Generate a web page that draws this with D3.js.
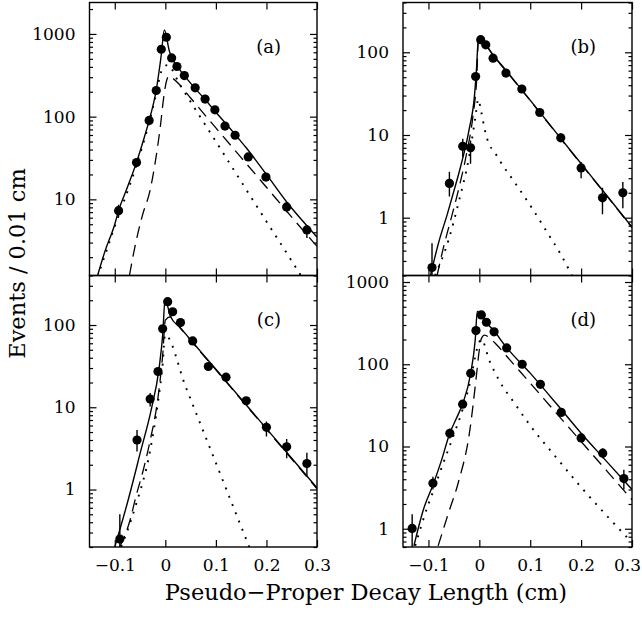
<!DOCTYPE html>
<html>
<head>
<meta charset="utf-8">
<script src="https://cdn.jsdelivr.net/npm/d3@7"></script>
<style>
  body { margin: 0; background: #fff; }
  text { font-family: "DejaVu Serif", serif; fill: #000; }
</style>
</head>
<body>
<script>
// measured points, panel (a)
const xA = [-0.0925,-0.057,-0.032,-0.018,-0.008,0.002,0.0125,0.023,0.0376,0.059,0.0786,0.098,0.118,0.138,0.164,0.199,0.24,0.28]
const yA = [7.3,27.9,90,207,653,912,513,404,314,223,163,121,77,59.6,32.6,18.6,8.1,4.27]
const errA = [[6.2,8.6],null,null,null,null,null,null,null,null,null,null,null,null,null,null,null,[7.0,9.3],[3.4,4.9]]
// fits (a)
const solidA = [[-0.134,1.2],[-0.12,2.3],[-0.1,5.0],[-0.0925,7.3],[-0.075,14],[-0.057,28],[-0.045,48],[-0.032,90],[-0.018,210],[-0.008,560],[-0.002,1120],[0.008,620],[0.0125,520],[0.023,410],[0.04,300],[0.06,215],[0.08,158],[0.1,113],[0.12,82],[0.14,59],[0.16,42],[0.2,20],[0.24,9.3],[0.28,4.8],[0.3,3.5]]
const dashA = [[-0.071,1.2],[-0.06,2.7],[-0.045,6.5],[-0.03,13],[-0.02,28],[-0.01,75],[-0.003,175],[0.003,280],[0.008,310],[0.015,290],[0.025,255],[0.05,168],[0.1,73],[0.15,32],[0.2,14],[0.25,6.1],[0.3,2.7]]
const dotA = [[-0.134,1.15],[-0.1,4.7],[-0.06,23],[-0.032,85],[-0.018,190],[-0.008,350],[0.004,420],[0.03,236],[0.06,121],[0.1,50],[0.15,16.4],[0.2,5.4],[0.25,1.8],[0.268,1.2]]

// panel (b)
const xB = [-0.093,-0.0588,-0.0326,-0.0173,-0.0073,0.0027,0.0126,0.027,0.0523,0.0835,0.1187,0.16,0.2,0.242,0.282]
const yB = [0.25,2.6,7.3,7.0,51,142,123,85,56,36,18.7,9.25,4.0,1.74,2.0]
const errB = [[0.05,0.49],[1.8,3.6],[5.4,9.0],[4.5,8.6],null,null,null,null,null,null,null,[8.2,10.5],[3.0,4.7],[1.1,2.3],[1.3,2.7]]
const solidB = [[-0.096,0.2],[-0.08,0.5],[-0.0626,1.12],[-0.05,2.1],[-0.037,4.1],[-0.0205,11.3],[-0.0093,31],[-0.0054,66],[-0.002,141],[0.0126,123],[0.027,93],[0.05,63],[0.08,37.4],[0.12,18.5],[0.16,9.1],[0.2,4.5],[0.25,1.87],[0.3,0.77]]
const dashB = [[-0.083,0.2],[-0.07,0.45],[-0.055,1.0],[-0.04,2.3],[-0.025,6],[-0.012,18],[-0.005,50],[-0.002,135],[0.0126,121],[0.027,92],[0.05,62],[0.08,37],[0.12,18.3],[0.16,9],[0.2,4.45],[0.25,1.85],[0.3,0.76]]
const dotB = [[-0.087,0.2],[-0.06,0.55],[-0.04,1.6],[-0.02,5.5],[-0.008,16],[-0.002,27],[0.003,20],[0.0126,10.3],[0.036,5.4],[0.069,2.7],[0.102,1.35],[0.135,0.64],[0.16,0.36],[0.182,0.2]]

// panel (c)
const xC = [-0.09,-0.056,-0.030,-0.0145,-0.0053,0.0046,0.0145,0.03,0.0541,0.0851,0.12,0.16,0.2,0.24,0.28]
const yC = [0.25,4.0,12.6,27.2,90,192,145,107,64,31.3,23.2,12.0,5.7,3.3,2.07]
const errC = [[0.15,0.5],[2.9,5.3],[10.2,14.9],null,null,null,null,null,null,null,null,null,[4.4,6.7],[2.4,4.1],[1.45,2.8]]
const solidC = [[-0.1,0.2],[-0.075,0.69],[-0.048,3.05],[-0.028,9.3],[-0.012,31],[-0.005,79],[-0.0006,205],[0.01,128],[0.03,92],[0.06,56],[0.1,29],[0.15,12.6],[0.2,5.5],[0.25,2.4],[0.3,1.05]]
const dashC = [[-0.09,0.2],[-0.07,0.42],[-0.058,0.83],[-0.045,1.6],[-0.031,3.7],[-0.0143,13.5],[-0.005,45],[0,115],[0.01,126],[0.03,91],[0.06,55],[0.1,28.5],[0.15,12.4],[0.2,5.4],[0.25,2.35],[0.3,1.02]]
const dotC = [[-0.087,0.2],[-0.06,0.6],[-0.03,3],[-0.015,11],[-0.005,35],[-0.0006,76],[0.04,17.9],[0.08,4.3],[0.12,1.03],[0.166,0.2]]

// panel (d)
const xD = [-0.132,-0.0912,-0.058,-0.0328,-0.0169,-0.0066,0.004,0.0139,0.029,0.0537,0.0842,0.12,0.161,0.2,0.2425,0.284]
const yD = [1.01,3.57,14.5,32.7,77.6,257,398,324,248,158,100,57,26,12.7,8.3,4.07]
const errD = [[0.55,1.5],[3.0,4.3],[12.5,16.5],null,null,null,null,null,null,null,null,null,null,null,[7.2,9.5],[3.0,5.2]]
const solidD = [[-0.1285,0.62],[-0.11,1.7],[-0.0912,3.4],[-0.075,6.6],[-0.058,14.5],[-0.045,22],[-0.0328,33],[-0.0169,78],[-0.008,200],[-0.004,440],[0.01,340],[0.03,250],[0.05,170],[0.1,78],[0.15,34],[0.2,14.5],[0.25,6.6],[0.3,3.0]]
const dashD = [[-0.081,0.62],[-0.06,1.6],[-0.0416,3.6],[-0.0185,16],[-0.0066,65],[0,150],[0.004,205],[0.01,226],[0.02,210],[0.035,170],[0.06,113],[0.1,59],[0.15,26],[0.2,11.5],[0.25,5.1],[0.3,2.25]]
const dotD = [[-0.126,0.62],[-0.1,2.0],[-0.0912,2.8],[-0.07,6.5],[-0.05,14],[-0.033,28],[-0.017,65],[-0.005,150],[0.004,200],[0.02,110],[0.04,62],[0.07,33],[0.1,18],[0.15,7.5],[0.2,3.2],[0.25,1.45],[0.3,0.68]]

const xTicks = [-0.1, 0, 0.1, 0.2, 0.3]
const panelNames = ['(a)', '(b)', '(c)', '(d)']
const yDomains = [[1.2, 2400], [0.2, 400], [0.2, 400], [0.6, 1200]]

var width = 642,
    height = 620
var svg = d3.select('body').append('svg')
    .attr('width', width)
    .attr('height', height)

var cols = [[89.5, 317], [403, 632]],
    rows = [[2.5, 275.5], [275.5, 547]]

var panels = [
    {x: xA, y: yA, err: errA, solid: solidA, dash: dashA, dot: dotA},
    {x: xB, y: yB, err: errB, solid: solidB, dash: dashB, dot: dotB},
    {x: xC, y: yC, err: errC, solid: solidC, dash: dashC, dot: dotC},
    {x: xD, y: yD, err: errD, solid: solidD, dash: dashD, dot: dotD}
]

panels.forEach((p, i) => {
    var c = cols[i % 2], r = rows[Math.floor(i / 2)]
    var x = d3.scaleLinear().domain([-0.15, 0.3]).range(c)
    var y = d3.scaleLog().domain(yDomains[i]).range([r[1], r[0]])
    var g = svg.append('g')

    g.append('clipPath').attr('id', 'clip' + i)
        .append('rect')
        .attr('x', c[0]).attr('y', r[0])
        .attr('width', c[1] - c[0]).attr('height', r[1] - r[0])

    var plot = g.append('g').attr('clip-path', 'url(#clip' + i + ')')
    var line = d3.line().x(d => x(d[0])).y(d => y(d[1])).curve(d3.curveMonotoneX)

    plot.append('path').datum(p.dot).attr('d', line)
        .attr('fill', 'none').attr('stroke', '#000').attr('stroke-width', 1.9)
        .attr('stroke-dasharray', '1.9,7')
    plot.append('path').datum(p.dash).attr('d', line)
        .attr('fill', 'none').attr('stroke', '#000').attr('stroke-width', 1.3)
        .attr('stroke-dasharray', '12,7')
    plot.append('path').datum(p.solid).attr('d', line)
        .attr('fill', 'none').attr('stroke', '#000').attr('stroke-width', 1.4)

    var pts = p.x.map((v, k) => ({x: v, y: p.y[k], e: p.err[k]}))
    plot.selectAll('line.err')
        .data(pts.filter(d => d.e)).enter()
        .append('line')
        .attr('x1', d => x(d.x)).attr('x2', d => x(d.x))
        .attr('y1', d => y(d.e[0])).attr('y2', d => y(d.e[1]))
        .attr('stroke', '#000').attr('stroke-width', 1.4)
    plot.selectAll('circle')
        .data(pts).enter()
        .append('circle')
        .attr('cx', d => x(d.x)).attr('cy', d => y(d.y))
        .attr('r', 4.6)
        .attr('fill', '#000')

    // ticks, pointing inward on all sides
    var majors = y.ticks().filter(v => Math.abs(Math.log10(v) - Math.round(Math.log10(v))) < 1e-6)
    var minors = y.ticks().filter(v => majors.indexOf(v) < 0)

    g.append('g').attr('transform', `translate(${c[0]},0)`)
        .call(d3.axisLeft(y).tickValues(majors).tickSize(-7).tickSizeOuter(0).tickPadding(14).tickFormat(d3.format('d')))
    g.append('g').attr('transform', `translate(${c[0]},0)`)
        .call(d3.axisLeft(y).tickValues(minors).tickSize(-3.5).tickSizeOuter(0).tickFormat(''))
    g.append('g').attr('transform', `translate(${c[1]},0)`)
        .call(d3.axisRight(y).tickValues(majors).tickSize(-7).tickSizeOuter(0).tickFormat(''))
    g.append('g').attr('transform', `translate(${c[1]},0)`)
        .call(d3.axisRight(y).tickValues(minors).tickSize(-3.5).tickSizeOuter(0).tickFormat(''))

    var fmt = d => d === 0 ? '0' : d3.format('.1f')(d)
    var bottom = g.append('g').attr('transform', `translate(0,${r[1]})`)
        .call(d3.axisBottom(x).tickValues(xTicks).tickSize(-7).tickSizeOuter(0).tickPadding(11.5)
            .tickFormat(i >= 2 ? fmt : ''))
    g.append('g').attr('transform', `translate(0,${r[0]})`)
        .call(d3.axisTop(x).tickValues(xTicks).tickSize(-7).tickSizeOuter(0).tickFormat(''))

    g.selectAll('.domain').remove()
    g.selectAll('.tick line').attr('stroke', '#000').attr('stroke-width', 1.2)
    g.selectAll('.tick text').attr('font-size', 17).attr('font-family', '"DejaVu Serif", serif').attr('fill', '#000')
    // last label on the far right sits against the page edge
    if (i === 3) bottom.selectAll('.tick text').filter(d => d === 0.3).attr('x', -5)

    g.append('rect')
        .attr('x', c[0]).attr('y', r[0])
        .attr('width', c[1] - c[0]).attr('height', r[1] - r[0])
        .attr('fill', 'none').attr('stroke', '#000').attr('stroke-width', 1.4)

    g.append('text')
        .attr('x', c[1] - 36).attr('y', r[0] + 50)
        .attr('text-anchor', 'end')
        .attr('font-size', 18)
        .text(panelNames[i])
})

svg.append('text')
    .attr('x', 366).attr('y', 600)
    .attr('text-anchor', 'middle')
    .attr('font-size', 22.5)
    .text('Pseudo\u2212Proper Decay Length (cm)')

svg.append('text')
    .attr('transform', 'translate(25,263.5) rotate(-90)')
    .attr('text-anchor', 'middle')
    .attr('font-size', 22.5)
    .text('Events / 0.01 cm')
</script>
</body>
</html>
